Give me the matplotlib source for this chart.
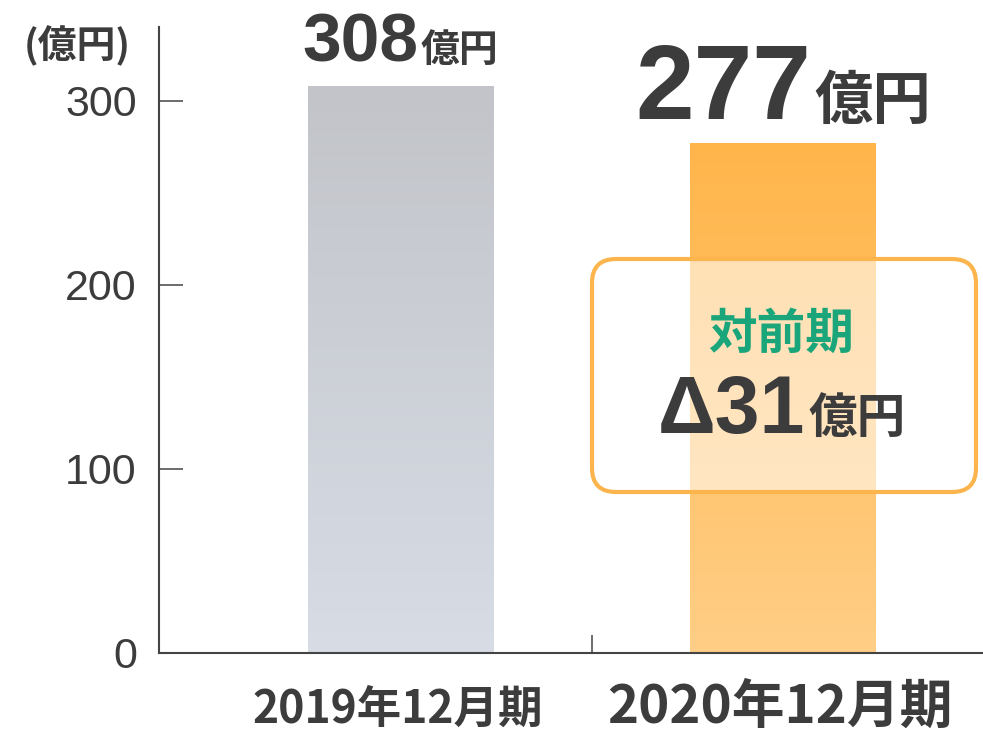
import matplotlib
matplotlib.use('Agg')
import matplotlib.pyplot as plt
import numpy as np
from matplotlib.patches import FancyBboxPatch
from matplotlib.colors import to_rgb
from matplotlib.transforms import IdentityTransform

# ---------------- data ----------------
categories = ['2019年12月期', '2020年12月期']
values = [308, 277]
unit = '億円'
yticks = [0, 100, 200, 300]
axis_unit = '(億円)'
change_title = '対前期'
change_value = 'Δ31'

# ---------------- style ----------------
W, H, DPI = 983, 733, 100
TXT = '#3c3c3c'
LAT = ['Liberation Sans', 'Noto Sans CJK JP', 'DejaVu Sans']
CJK = ['Noto Sans CJK JP', 'DejaVu Sans']
grad_top = ['#c2c4c9', '#ffb54a']
grad_bot = ['#d7dce5', '#ffce86']
cat_sizes = [32, 38]
num_sizes = [50, 76]
unit_sizes = [28, 42]

fig = plt.figure(figsize=(W / DPI, H / DPI), dpi=DPI)
fig.patch.set_facecolor('white')

ax = fig.add_axes([159 / W, (H - 653) / H, (W - 159) / W, (653 - 27) / H])
ax.set_facecolor('none')

x = np.arange(len(values))
bar_w = 0.484
bars = ax.bar(x, values, width=bar_w, color='none', edgecolor='none', zorder=2)

for i, b in enumerate(bars):
    c0 = np.array(to_rgb(grad_top[i]))
    c1 = np.array(to_rgb(grad_bot[i]))
    t = np.linspace(0, 1, 256)[:, None]
    img = (c0[None, :] * (1 - t) + c1[None, :] * t)[:, None, :]
    x0 = b.get_x()
    im = ax.imshow(img, extent=[x0, x0 + b.get_width(), 0, b.get_height()],
                   aspect='auto', origin='upper', zorder=2, interpolation='bilinear')
    im.set_clip_path(b)

ax.set_xlim(-0.631, 1.523)
ax.set_ylim(0, 340)

for s in ['top', 'right']:
    ax.spines[s].set_visible(False)
for s in ['left', 'bottom']:
    ax.spines[s].set_color('#444444')
    ax.spines[s].set_linewidth(1.5)
    ax.spines[s].set_zorder(3)

ax.set_yticks(yticks)
ax.set_yticklabels([str(v) for v in yticks], family=LAT)
ax.tick_params(axis='y', direction='in', length=17, width=1.1, color='#444444',
               pad=16, labelsize=31, labelcolor=TXT)
ax.set_xticks([0.5])
ax.set_xticklabels([''])
ax.tick_params(axis='x', direction='in', length=13, width=1.1, color='#444444')

# category labels
for i, cat in enumerate(categories):
    ax.annotate(cat, xy=(x[i], 0), xycoords='data', xytext=(-2, -50),
                textcoords='offset points', ha='center', va='baseline',
                fontsize=cat_sizes[i], fontweight='bold', color=TXT, family=CJK)

fig.canvas.draw()
renderer = fig.canvas.get_renderer()


def place_parts(xc, yb, parts, gap=2):
    texts = []
    for s, kw in parts:
        t = fig.text(0, 0, s, transform=IdentityTransform(), ha='left',
                     va='baseline', **kw)
        texts.append(t)
    fig.canvas.draw()
    widths = [t.get_window_extent(renderer).width for t in texts]
    total = sum(widths) + gap * (len(texts) - 1)
    xx = xc - total / 2
    for t, w in zip(texts, widths):
        t.set_position((xx, yb))
        xx += w + gap
    return texts


# value labels
for i, v in enumerate(values):
    xd, yd = ax.transData.transform((x[i], v))
    place_parts(xd, yd + 24, [
        (str(v), dict(fontsize=num_sizes[i], fontweight='bold', color=TXT, family=LAT)),
        (unit, dict(fontsize=unit_sizes[i], fontweight='bold', color=TXT, family=CJK)),
    ], gap=3)

# axis unit
fig.text(77 / W, 1 - 46 / H, axis_unit, ha='center', va='center', fontsize=28,
         fontweight='bold', color=TXT, family=CJK)

# change box (pixel coords, origin bottom-left)
bx0, by0, bx1, by1 = 592, H - 492, 976, H - 259
box = FancyBboxPatch((bx0, by0), bx1 - bx0, by1 - by0,
                     boxstyle='round,pad=0,rounding_size=24',
                     transform=IdentityTransform(), facecolor=(1, 1, 1, 0.56),
                     edgecolor='#fbb54c', linewidth=3, zorder=5)
fig.add_artist(box)

fig.text(781 / W, 1 - 349 / H, change_title, ha='center', va='baseline',
         fontsize=35, fontweight='bold', color='#1aa67a', family=CJK, zorder=6)
place_parts(782, H - 433, [
    (change_value, dict(fontsize=58, fontweight='bold', color=TXT, family=LAT, zorder=6)),
    (unit, dict(fontsize=35, fontweight='bold', color=TXT, family=CJK, zorder=6)),
], gap=3)

fig.savefig('out.png', dpi=DPI, facecolor='white')
